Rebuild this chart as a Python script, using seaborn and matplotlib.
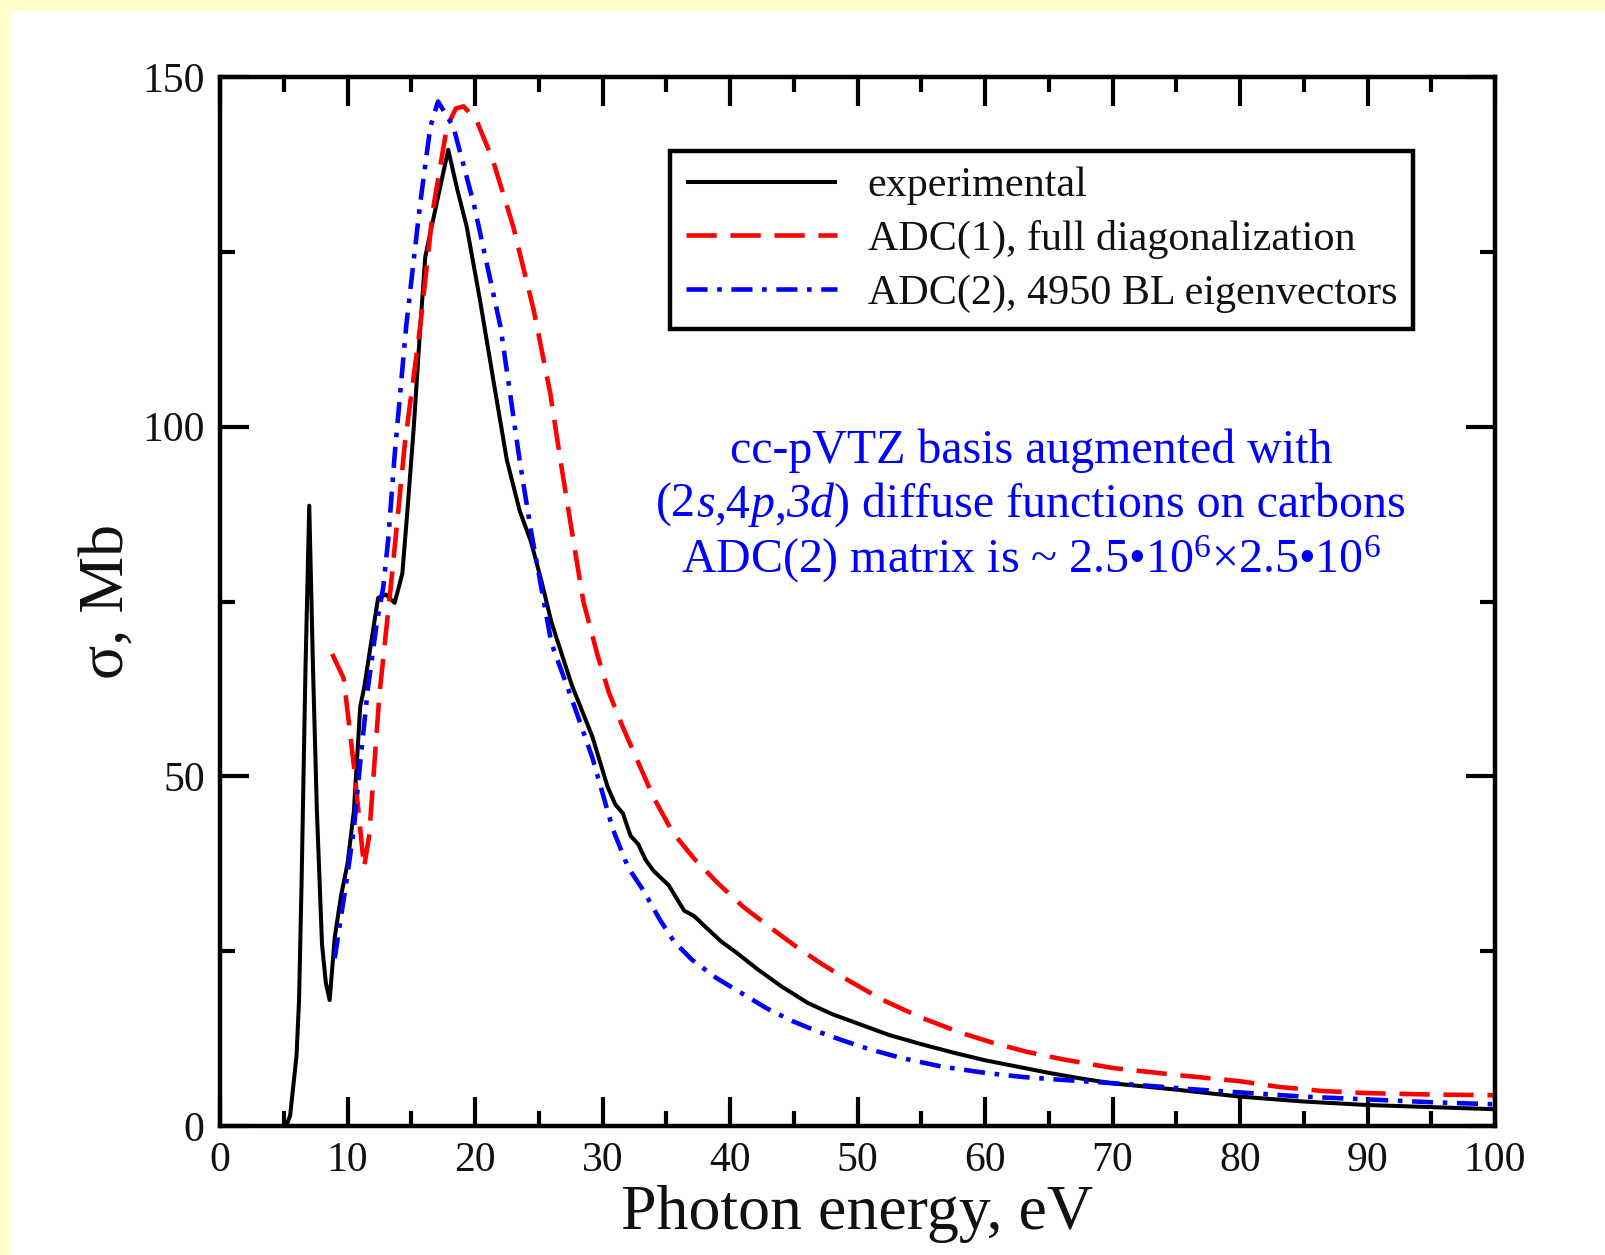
import numpy as np
import pandas as pd
import matplotlib
matplotlib.use("Agg")
import matplotlib.pyplot as plt
from matplotlib.patches import Rectangle
from matplotlib.offsetbox import TextArea, HPacker, AnchoredOffsetbox
import seaborn as sns

# ---------------- data ----------------
exp_x = [5.2, 5.5, 6.0, 6.2, 6.4, 6.7, 7.0, 7.3, 7.6, 8.0, 8.3, 8.6, 9.0, 9.5, 10.0,
         10.5, 11.0, 11.3, 11.8, 12.4, 13.0, 13.7, 14.3, 14.7, 15.2, 15.7, 16.1, 17.0,
         17.9, 18.6, 19.35, 20.4, 21.5, 22.5, 23.5, 24.4, 25.2, 26.0, 27.6, 29.2, 30.4,
         31.0, 31.6, 32.2, 32.8, 33.4, 34.0, 35.2, 36.4, 37.2, 38.0, 39.3, 40.5, 42.1,
         44.0, 46.1, 48.0, 50.1, 52.5, 55.0, 57.5, 60.0, 62.5, 65.0, 67.5, 70.0, 75.0,
         80.0, 85.0, 90.0, 95.0, 100.0]
exp_y = [0.0, 1.5, 10.0, 18.0, 35.0, 65.0, 88.7, 65.0, 45.0, 26.0, 20.5, 18.0, 27.0, 33.0, 37.5,
         45.0, 60.0, 62.6, 68.5, 75.5, 76.0, 74.8, 79.0, 88.0, 100.0, 114.0, 124.3, 132.0,
         139.6, 134.0, 128.6, 118.0, 106.0, 95.2, 88.0, 83.5, 78.0, 72.0, 63.0, 55.7, 48.5,
         46.0, 44.7, 41.5, 40.3, 38.0, 36.5, 34.4, 30.8, 30.0, 28.6, 26.4, 24.8, 22.5,
         20.0, 17.6, 16.0, 14.6, 13.0, 11.7, 10.5, 9.4, 8.5, 7.6, 6.8, 6.1, 5.2,
         4.2, 3.5, 3.0, 2.7, 2.4]

adc1_x = [8.8, 9.7, 10.5, 11.3, 11.7, 12.5, 13.5, 14.5, 15.7, 16.7, 17.8, 18.5, 19.1, 20.1,
          21.4, 23.0, 24.6, 25.9, 26.7, 27.6, 28.5, 29.6, 30.5, 31.6, 32.8, 34.0, 35.5,
          37.2, 39.0, 41.0, 43.0, 45.0, 47.0, 49.3, 52.0, 55.0, 58.0, 60.6, 63.3, 66.2,
          70.0, 75.0, 80.0, 83.0, 86.5, 90.0, 95.0, 100.0]
adc1_y = [67.5, 64.0, 51.5, 37.0, 41.5, 61.6, 79.0, 97.6, 114.3, 131.0, 142.9, 145.5, 145.8, 143.9,
          138.1, 128.6, 116.7, 104.8, 95.2, 85.0, 75.0, 67.4, 62.0, 57.0, 52.0, 47.0, 42.0,
          38.2, 34.8, 31.4, 28.6, 25.9, 23.4, 20.8, 18.0, 15.5, 13.4, 11.9, 10.6, 9.5,
          8.3, 7.3, 6.4, 5.6, 5.0, 4.7, 4.5, 4.4]

adc2_x = [9.0, 9.5, 10.0, 10.5, 11.0, 11.6, 12.3, 12.8, 13.2, 13.7, 14.6, 15.7, 16.5, 17.1,
          18.3, 19.9, 22.0, 23.5, 24.4, 25.2, 26.0, 27.6, 29.2, 30.8, 32.0, 33.2, 34.5,
          35.6, 37.0, 38.9, 40.9, 42.9, 44.9, 46.9, 48.9, 50.9, 53.5, 56.6, 60.0, 63.0,
          66.0, 69.4, 72.5, 75.9, 80.0, 85.0, 90.0, 95.0, 100.0]
adc2_y = [24.0, 30.0, 36.0, 42.5, 52.0, 62.6, 72.0, 77.0, 84.0, 96.0, 114.3, 131.9, 142.9, 146.5,
          142.9, 131.9, 114.3, 95.2, 85.0, 77.0, 69.0, 61.0, 52.7, 42.5, 37.0, 33.7, 29.5,
          26.4, 23.8, 21.2, 19.0, 16.8, 15.0, 13.5, 12.2, 11.0, 9.7, 8.5, 7.6, 7.0,
          6.6, 6.2, 5.8, 5.3, 4.8, 4.2, 3.8, 3.4, 3.1]

labels = ["experimental", "ADC(1), full diagonalization", "ADC(2), 4950 BL eigenvectors"]
x_ticks = [0, 10, 20, 30, 40, 50, 60, 70, 80, 90, 100]
y_ticks = [0, 50, 100, 150]
note_line1 = "cc-pVTZ basis augmented with"
note_line2 = [("(2", "normal"), ("s", "italic"), (",4", "normal"), ("p", "italic"),
              (",", "normal"), ("3d", "italic"), (") diffuse functions on carbons", "normal")]
note_line3 = r"ADC(2) matrix is ~ 2.5•10$^{6}$×2.5•10$^{6}$"

# ---------------- style ----------------
sns.set_theme(style="white")
plt.rcParams["font.family"] = ["Liberation Serif", "DejaVu Serif"]
plt.rcParams["mathtext.fontset"] = "custom"
plt.rcParams["mathtext.rm"] = "Liberation Serif"
plt.rcParams["mathtext.it"] = "Liberation Serif:italic"
plt.rcParams["mathtext.bf"] = "Liberation Serif:bold"

W, H = 1605, 1255
fig = plt.figure(figsize=(W / 100, H / 100), dpi=100, facecolor="#FFFFCC")
fig.patches.append(Rectangle((12 / W, 0), 1, 1 - 11 / H, transform=fig.transFigure,
                             facecolor="white", edgecolor="none", zorder=-5))

L, R, T, B = 220, 1495, 77, 1126
ax = fig.add_axes([L / W, 1 - B / H, (R - L) / W, (B - T) / H])
ax.set_facecolor("white")

df_exp = pd.DataFrame({"x": exp_x, "y": exp_y})
df_a1 = pd.DataFrame({"x": adc1_x, "y": adc1_y})
df_a2 = pd.DataFrame({"x": adc2_x, "y": adc2_y})

sns.lineplot(data=df_exp, x="x", y="y", ax=ax, color="black", lw=2.9, label=labels[0])
sns.lineplot(data=df_a1, x="x", y="y", ax=ax, color="#FF0000", lw=3.3, label=labels[1])
sns.lineplot(data=df_a2, x="x", y="y", ax=ax, color="#0000FF", lw=3.3, label=labels[2])
ax.lines[1].set_dashes([6.6, 3.0])
ax.lines[2].set_dashes([4.6, 2.1, 1.0, 2.1])
for ln in ax.lines:
    ln.set_solid_capstyle("butt")
    ln.set_dash_capstyle("butt")

ax.set_xlim(0, 100)
ax.set_ylim(0, 150)
ax.set_xticks(x_ticks)
ax.set_yticks(y_ticks)
ax.set_xticks(np.arange(5, 100, 10), minor=True)
ax.set_yticks([25, 75, 125], minor=True)
ax.tick_params(which="both", direction="in", top=True, right=True, bottom=True, left=True,
               color="black", width=3, labelsize=30, pad=11, labelcolor="#111111")
ax.tick_params(which="major", length=21)
ax.tick_params(which="minor", length=11)
for s in ax.spines.values():
    s.set_linewidth(3.2)
    s.set_color("black")
    s.set_visible(True)
    s.set_zorder(5)

ax.set_xlabel("Photon energy, eV", fontsize=46, labelpad=4, color="#111111")
ax.set_ylabel("σ, Mb", fontsize=46, labelpad=4, color="#111111")

leg = ax.legend(loc="upper left", bbox_to_anchor=((670 - L) / (R - L), (B - 151) / (B - T)),
                borderaxespad=0, fontsize=30.3, frameon=True, fancybox=False, framealpha=1,
                edgecolor="black", handlelength=3.6, handletextpad=0.72, borderpad=0.38,
                labelspacing=0.35)
leg.get_frame().set_linewidth(3.2)
for t in leg.get_texts():
    t.set_color("#111111")

FS = 34.5
fig.text(1031 / W, 1 - 451 / H, note_line1, ha="center", va="center", fontsize=FS, color="#0000FF")
fig.text(1031 / W, 1 - 559 / H, note_line3, ha="center", va="center", fontsize=FS, color="#0000FF")
parts = [TextArea(t, textprops=dict(fontsize=FS, color="#0000FF", fontstyle=st)) for t, st in note_line2]
pack = HPacker(children=parts, align="baseline", pad=0, sep=0)
ab = AnchoredOffsetbox(loc="center", child=pack, pad=0, borderpad=0, frameon=False,
                       bbox_to_anchor=(1031 / W, 1 - 505 / H), bbox_transform=fig.transFigure)
fig.add_artist(ab)

fig.savefig("out.png", dpi=100, facecolor=fig.get_facecolor())
